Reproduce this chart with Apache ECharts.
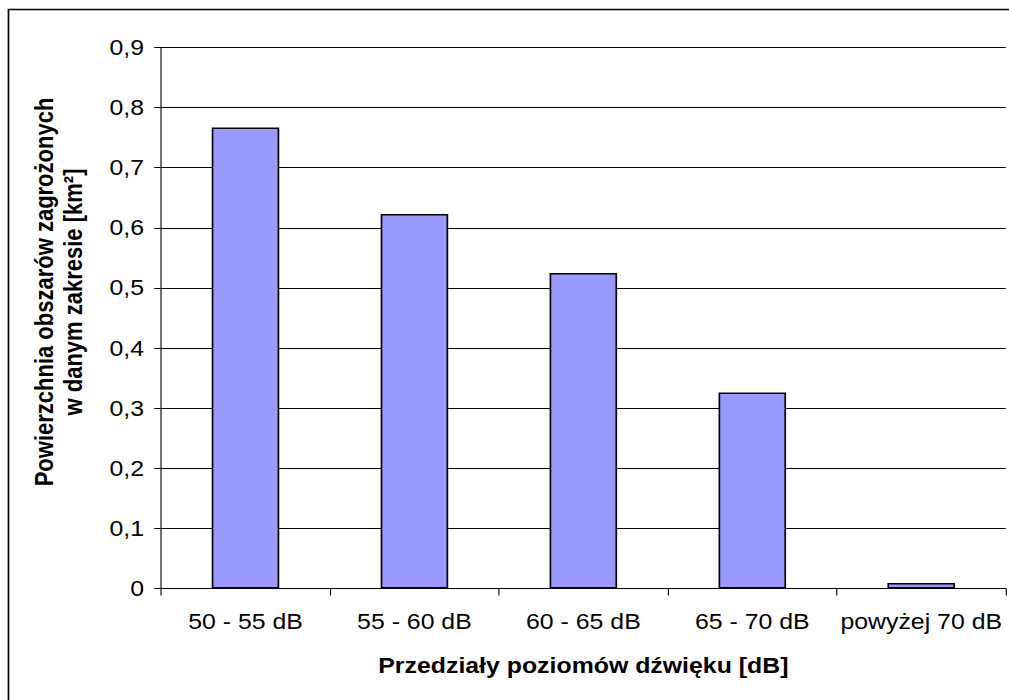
<!DOCTYPE html>
<html>
<head>
<meta charset="utf-8">
<script src="https://cdn.jsdelivr.net/npm/echarts@6/dist/echarts.min.js"></script>
<style>
  html, body { margin: 0; padding: 0; background: #fff; overflow: hidden; }
  /* the chart is laid out slightly narrower and widened to the page width,
     which gives the wide letterforms of the original figure */
  #chart { width: 893px; height: 700px; transform: scaleX(1.13); transform-origin: 0 0; }
</style>
</head>
<body>
<div id="chart"></div>
<script>
// Noise exposure areas by sound level band
const categories = ['50 - 55 dB', '55 - 60 dB', '60 - 65 dB', '65 - 70 dB', 'powyżej 70 dB'];
const areaKm2 = [0.767, 0.623, 0.525, 0.326, 0.009];
const yTicks = { min: 0, max: 0.9, interval: 0.1 };
const yTitleLines = ['Powierzchnia obszarów zagrożonych', 'w danym zakresie [km²]'];
const xTitle = 'Przedziały poziomów dźwięku [dB]';

const FONT = '"Liberation Sans", Arial, sans-serif';

const chart = echarts.init(document.getElementById('chart'), null, { renderer: 'svg' });

chart.setOption({
  animation: false,
  backgroundColor: '#fff',
  grid: { left: 142.5, top: 47.5, right: 3, bottom: 111.5, containLabel: false },
  graphic: [
    // chart frame (left and top edges)
    {
      type: 'polyline',
      shape: { points: [[7.5, 700], [7.5, 9.5], [900, 9.5]] },
      style: { stroke: '#000', lineWidth: 1.5, fill: null },
      silent: true
    },
    {
      type: 'text',
      x: 39.5, y: 292,
      rotation: Math.PI / 2,
      style: {
        text: yTitleLines[0],
        font: 'bold 22px ' + FONT,
        fill: '#000',
        align: 'center',
        verticalAlign: 'middle'
      }
    },
    {
      type: 'text',
      x: 65, y: 292,
      rotation: Math.PI / 2,
      style: {
        text: yTitleLines[1],
        font: 'bold 22px ' + FONT,
        fill: '#000',
        align: 'center',
        verticalAlign: 'middle'
      }
    }
  ],
  xAxis: {
    type: 'category',
    data: categories,
    name: xTitle,
    nameLocation: 'middle',
    nameGap: 66,
    nameTextStyle: { fontFamily: FONT, fontSize: 22, fontWeight: 'bold', color: '#000' },
    axisLine: { lineStyle: { color: '#000', width: 1 } },
    axisTick: { show: true, length: 7, lineStyle: { color: '#000' } },
    axisLabel: { fontFamily: FONT, fontSize: 22, color: '#000', margin: 22, interval: 0 },
    splitLine: { show: false }
  },
  yAxis: {
    type: 'value',
    min: yTicks.min,
    max: yTicks.max,
    interval: yTicks.interval,
    axisLine: { show: true, lineStyle: { color: '#000', width: 1 } },
    axisTick: { show: true, length: 6, lineStyle: { color: '#000' } },
    axisLabel: {
      fontFamily: FONT, fontSize: 22, color: '#000', margin: 15,
      formatter: v => (Math.round(v * 10) / 10).toString().replace('.', ',')
    },
    splitLine: { show: true, lineStyle: { color: '#000', width: 1 } }
  },
  series: [{
    type: 'bar',
    data: areaKm2,
    barCategoryGap: '60%',
    itemStyle: { color: '#9999ff', borderColor: '#000', borderWidth: 1.5 }
  }]
});
</script>
</body>
</html>
